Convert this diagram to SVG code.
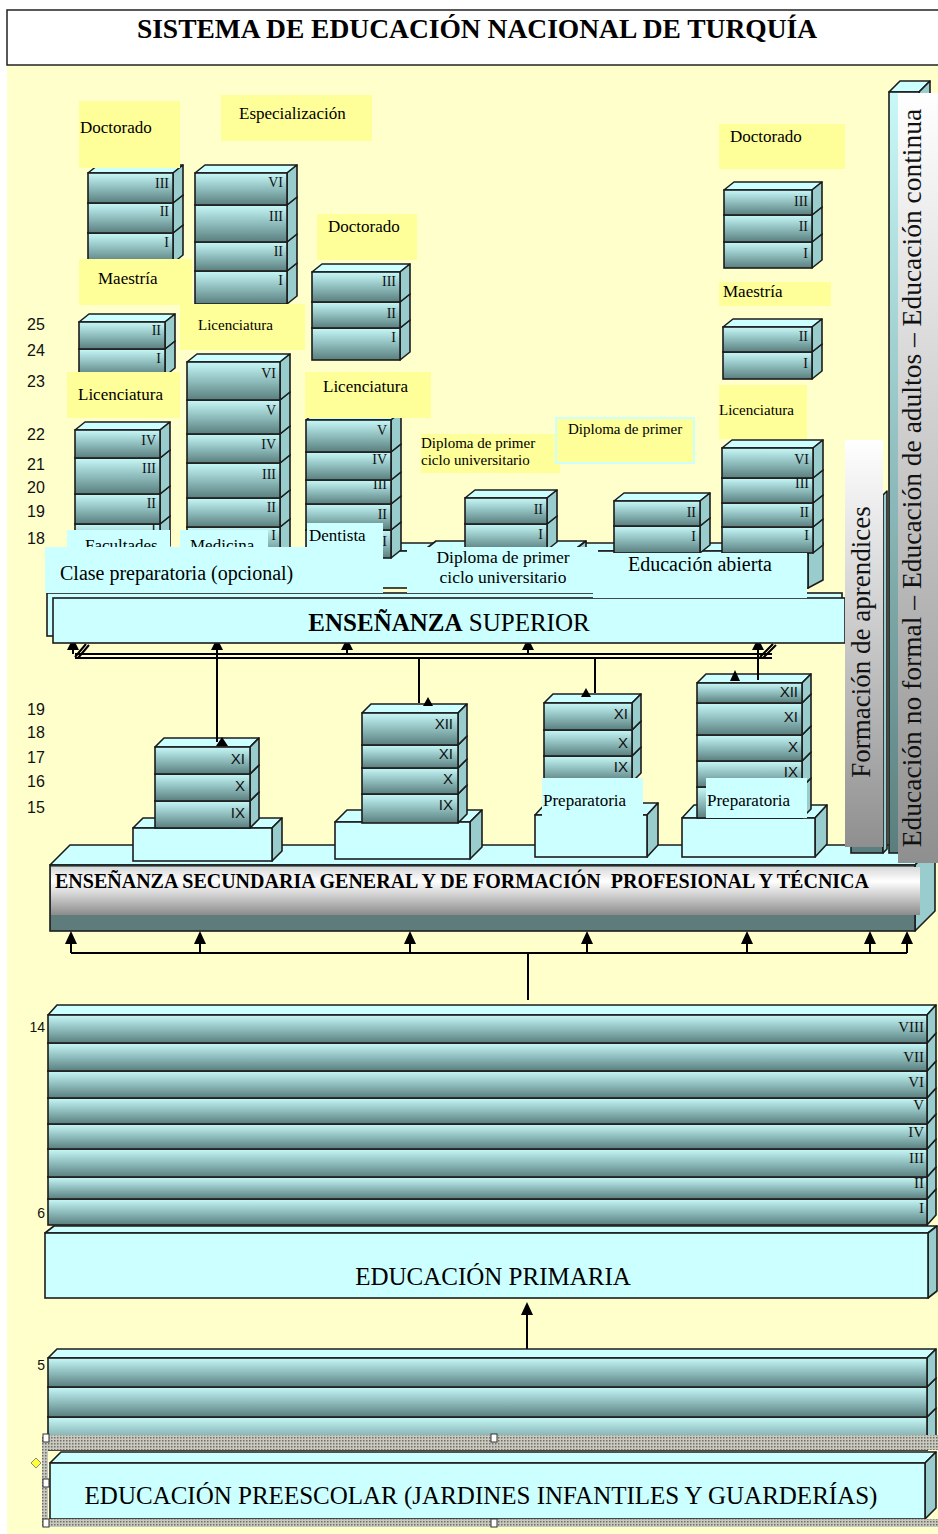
<svg xmlns="http://www.w3.org/2000/svg" width="938" height="1534" viewBox="0 0 938 1534">
<defs>
<linearGradient id="gf" x1="0" y1="0" x2="0" y2="1"><stop offset="0" stop-color="#C8F8F8"/><stop offset="0.5" stop-color="#8FBDBD"/><stop offset="1" stop-color="#5A7E7E"/></linearGradient>
<linearGradient id="gs" x1="0" y1="0" x2="0" y2="1"><stop offset="0" stop-color="#D8D8D8"/><stop offset="0.3" stop-color="#FFFFFF"/><stop offset="1" stop-color="#8C8C8C"/></linearGradient>
<linearGradient id="gg" x1="0" y1="0" x2="0" y2="1"><stop offset="0" stop-color="#FFFFFF"/><stop offset="1" stop-color="#8F8F8F"/></linearGradient>
<pattern id="dots" width="3" height="3" patternUnits="userSpaceOnUse"><rect width="3" height="3" fill="#C9C9BC"/><rect width="1.5" height="1.5" fill="#6E6E6E"/></pattern>
</defs>
<style>
.f{fill:url(#gf);stroke:#1c1c1c;stroke-width:1.6}
.t{fill:#CCFFFF;stroke:#1c1c1c;stroke-width:1.6;stroke-linejoin:round}
.s{fill:#99CCCC;stroke:#1c1c1c;stroke-width:1.6;stroke-linejoin:round}
.c{fill:#CCFFFF;stroke:#1c1c1c;stroke-width:1.6}
.y{fill:#FFFF99}
.q{fill:#CCFFFF}
.rn{font-family:"Liberation Serif","Times New Roman",serif;font-size:14px;text-anchor:end;fill:#111}
.rp{font-size:15px}
.rs{font-family:"Liberation Sans",Arial,sans-serif;font-size:15px;text-anchor:end;fill:#111}
.lb{font-family:"Liberation Serif","Times New Roman",serif;font-size:17px;fill:#000}
.ls{font-size:15px}
.lm{font-size:17.5px;text-anchor:middle}
.ll{font-size:20px}
.ag{font-family:"Liberation Sans",Arial,sans-serif;font-size:16px;fill:#111}
.ap{font-family:"Liberation Sans",Arial,sans-serif;font-size:14px;fill:#111;text-anchor:end}
.big{font-family:"Liberation Serif","Times New Roman",serif;font-size:25px;fill:#000}
.cn{stroke:#000;stroke-width:2;fill:none}
.ah{fill:#000}
.h{fill:#fff;stroke:#333;stroke-width:1}
</style>

<rect x="7" y="65" width="931" height="1469" fill="#FFFFCC"/>
<g id="title">
<rect x="7" y="10" width="940" height="55" fill="#fff" stroke="#222" stroke-width="1.5"/>
<text x="477" y="38" text-anchor="middle" font-family="Liberation Serif, Times New Roman, serif" font-size="27.5" font-weight="bold">SISTEMA DE EDUCACIÓN NACIONAL DE TURQUÍA</text>
</g>

<g id="ages">
<text class="ag" x="27" y="330">25</text><text class="ag" x="27" y="356">24</text><text class="ag" x="27" y="387">23</text><text class="ag" x="27" y="440">22</text><text class="ag" x="27" y="470">21</text><text class="ag" x="27" y="493">20</text><text class="ag" x="27" y="517">19</text><text class="ag" x="27" y="544">18</text>
<text class="ag" x="27" y="715">19</text><text class="ag" x="27" y="738">18</text><text class="ag" x="27" y="763">17</text><text class="ag" x="27" y="787">16</text><text class="ag" x="27" y="813">15</text>
<text class="ap" x="45" y="1032">14</text><text class="ap" x="45" y="1218">6</text><text class="ap" x="45" y="1370">5</text>
</g>

<g id="university-slabs">
<path class="t" d="M380,551l15,-8h428l-15,8z"/><path class="s" d="M808,551l15,-8v37l-15,8z"/><rect class="c" x="380" y="551" width="428" height="37"/>
<path class="t" d="M427,548l9,-7h150l-9,7z"/><path class="s" d="M577,548l9,-7v40l-9,7z"/><rect class="c" x="427" y="548" width="150" height="40"/>
</g>

<g id="doctorado-1">
<path class="t" d="M88,233l10,-8h85l-10,8z"/><path class="s" d="M173,233l10,-8v30l-10,8z"/><rect class="f" x="88" y="233" width="85" height="30"/><text class="rn" x="169" y="247">I</text>
<path class="t" d="M88,203l10,-8h85l-10,8z"/><path class="s" d="M173,203l10,-8v30l-10,8z"/><rect class="f" x="88" y="203" width="85" height="30"/><text class="rn" x="169" y="216">II</text>
<path class="t" d="M88,173l10,-8h85l-10,8z"/><path class="s" d="M173,173l10,-8v30l-10,8z"/><rect class="f" x="88" y="173" width="85" height="30"/><text class="rn" x="169" y="188">III</text>
</g>
<g id="maestria-1">
<path class="t" d="M79,349l10,-8h86l-10,8z"/><path class="s" d="M165,349l10,-8v27l-10,8z"/><rect class="f" x="79" y="349" width="86" height="27"/><text class="rn" x="161" y="363">I</text>
<path class="t" d="M79,322l10,-8h86l-10,8z"/><path class="s" d="M165,322l10,-8v27l-10,8z"/><rect class="f" x="79" y="322" width="86" height="27"/><text class="rn" x="161" y="335">II</text>
</g>
<g id="licenciatura-1">
<path class="t" d="M75,524l10,-8h85l-10,8z"/><path class="s" d="M160,524l10,-8v30l-10,8z"/><rect class="f" x="75" y="524" width="85" height="30"/><text class="rn" x="156" y="532">I</text>
<path class="t" d="M75,494l10,-8h85l-10,8z"/><path class="s" d="M160,494l10,-8v30l-10,8z"/><rect class="f" x="75" y="494" width="85" height="30"/><text class="rn" x="156" y="508">II</text>
<path class="t" d="M75,458l10,-8h85l-10,8z"/><path class="s" d="M160,458l10,-8v36l-10,8z"/><rect class="f" x="75" y="458" width="85" height="36"/><text class="rn" x="156" y="473">III</text>
<path class="t" d="M75,430l10,-8h85l-10,8z"/><path class="s" d="M160,430l10,-8v28l-10,8z"/><rect class="f" x="75" y="430" width="85" height="28"/><text class="rn" x="156" y="445">IV</text>
</g>
<g id="especializacion-2">
<path class="t" d="M195,271l10,-8h92l-10,8z"/><path class="s" d="M287,271l10,-8v33l-10,8z"/><rect class="f" x="195" y="271" width="92" height="33"/><text class="rn" x="283" y="285">I</text>
<path class="t" d="M195,242l10,-8h92l-10,8z"/><path class="s" d="M287,242l10,-8v29l-10,8z"/><rect class="f" x="195" y="242" width="92" height="29"/><text class="rn" x="283" y="256">II</text>
<path class="t" d="M195,205l10,-8h92l-10,8z"/><path class="s" d="M287,205l10,-8v37l-10,8z"/><rect class="f" x="195" y="205" width="92" height="37"/><text class="rn" x="283" y="221">III</text>
<path class="t" d="M195,173l10,-8h92l-10,8z"/><path class="s" d="M287,173l10,-8v32l-10,8z"/><rect class="f" x="195" y="173" width="92" height="32"/><text class="rn" x="283" y="187">VI</text>
</g>
<g id="medicina-2">
<path class="t" d="M187,527l10,-8h93l-10,8z"/><path class="s" d="M280,527l10,-8v30l-10,8z"/><rect class="f" x="187" y="527" width="93" height="30"/><text class="rn" x="276" y="540">I</text>
<path class="t" d="M187,498l10,-8h93l-10,8z"/><path class="s" d="M280,498l10,-8v29l-10,8z"/><rect class="f" x="187" y="498" width="93" height="29"/><text class="rn" x="276" y="512">II</text>
<path class="t" d="M187,463l10,-8h93l-10,8z"/><path class="s" d="M280,463l10,-8v35l-10,8z"/><rect class="f" x="187" y="463" width="93" height="35"/><text class="rn" x="276" y="479">III</text>
<path class="t" d="M187,434l10,-8h93l-10,8z"/><path class="s" d="M280,434l10,-8v29l-10,8z"/><rect class="f" x="187" y="434" width="93" height="29"/><text class="rn" x="276" y="449">IV</text>
<path class="t" d="M187,400l10,-8h93l-10,8z"/><path class="s" d="M280,400l10,-8v34l-10,8z"/><rect class="f" x="187" y="400" width="93" height="34"/><text class="rn" x="276" y="415">V</text>
<path class="t" d="M187,362l10,-8h93l-10,8z"/><path class="s" d="M280,362l10,-8v38l-10,8z"/><rect class="f" x="187" y="362" width="93" height="38"/><text class="rn" x="276" y="378">VI</text>
</g>
<g id="doctorado-3">
<path class="t" d="M312,328l10,-8h88l-10,8z"/><path class="s" d="M400,328l10,-8v32l-10,8z"/><rect class="f" x="312" y="328" width="88" height="32"/><text class="rn" x="396" y="342">I</text>
<path class="t" d="M312,302l10,-8h88l-10,8z"/><path class="s" d="M400,302l10,-8v26l-10,8z"/><rect class="f" x="312" y="302" width="88" height="26"/><text class="rn" x="396" y="318">II</text>
<path class="t" d="M312,272l10,-8h88l-10,8z"/><path class="s" d="M400,272l10,-8v30l-10,8z"/><rect class="f" x="312" y="272" width="88" height="30"/><text class="rn" x="396" y="286">III</text>
</g>
<g id="dentista-3">
<path class="t" d="M306,530l10,-8h85l-10,8z"/><path class="s" d="M391,530l10,-8v28l-10,8z"/><rect class="f" x="306" y="530" width="85" height="28"/><text class="rn" x="387" y="546">I</text>
<path class="t" d="M306,504l10,-8h85l-10,8z"/><path class="s" d="M391,504l10,-8v26l-10,8z"/><rect class="f" x="306" y="504" width="85" height="26"/><text class="rn" x="387" y="519">II</text>
<path class="t" d="M306,480l10,-8h85l-10,8z"/><path class="s" d="M391,480l10,-8v24l-10,8z"/><rect class="f" x="306" y="480" width="85" height="24"/><text class="rn" x="387" y="489">III</text>
<path class="t" d="M306,452l10,-8h85l-10,8z"/><path class="s" d="M391,452l10,-8v28l-10,8z"/><rect class="f" x="306" y="452" width="85" height="28"/><text class="rn" x="387" y="464">IV</text>
<path class="t" d="M306,420l10,-8h85l-10,8z"/><path class="s" d="M391,420l10,-8v32l-10,8z"/><rect class="f" x="306" y="420" width="85" height="32"/><text class="rn" x="387" y="435">V</text>
</g>
<g id="diploma-4">
<path class="t" d="M465,524l10,-8h82l-10,8z"/><path class="s" d="M547,524l10,-8v26l-10,8z"/><rect class="f" x="465" y="524" width="82" height="26"/><text class="rn" x="543" y="539">I</text>
<path class="t" d="M465,498l10,-8h82l-10,8z"/><path class="s" d="M547,498l10,-8v26l-10,8z"/><rect class="f" x="465" y="498" width="82" height="26"/><text class="rn" x="543" y="514">II</text>
</g>
<g id="abierta-5">
<path class="t" d="M614,526l10,-8h86l-10,8z"/><path class="s" d="M700,526l10,-8v27l-10,8z"/><rect class="f" x="614" y="526" width="86" height="27"/><text class="rn" x="696" y="541">I</text>
<path class="t" d="M614,501l10,-8h86l-10,8z"/><path class="s" d="M700,501l10,-8v25l-10,8z"/><rect class="f" x="614" y="501" width="86" height="25"/><text class="rn" x="696" y="517">II</text>
</g>
<g id="doctorado-6">
<path class="t" d="M724,242l10,-8h88l-10,8z"/><path class="s" d="M812,242l10,-8v26l-10,8z"/><rect class="f" x="724" y="242" width="88" height="26"/><text class="rn" x="808" y="258">I</text>
<path class="t" d="M724,215l10,-8h88l-10,8z"/><path class="s" d="M812,215l10,-8v27l-10,8z"/><rect class="f" x="724" y="215" width="88" height="27"/><text class="rn" x="808" y="231">II</text>
<path class="t" d="M724,190l10,-8h88l-10,8z"/><path class="s" d="M812,190l10,-8v25l-10,8z"/><rect class="f" x="724" y="190" width="88" height="25"/><text class="rn" x="808" y="206">III</text>
</g>
<g id="maestria-6">
<path class="t" d="M723,352l10,-8h89l-10,8z"/><path class="s" d="M812,352l10,-8v27l-10,8z"/><rect class="f" x="723" y="352" width="89" height="27"/><text class="rn" x="808" y="368">I</text>
<path class="t" d="M723,327l10,-8h89l-10,8z"/><path class="s" d="M812,327l10,-8v25l-10,8z"/><rect class="f" x="723" y="327" width="89" height="25"/><text class="rn" x="808" y="341">II</text>
</g>
<g id="licenciatura-6">
<path class="t" d="M722,527l10,-8h91l-10,8z"/><path class="s" d="M813,527l10,-8v26l-10,8z"/><rect class="f" x="722" y="527" width="91" height="26"/><text class="rn" x="809" y="540">I</text>
<path class="t" d="M722,503l10,-8h91l-10,8z"/><path class="s" d="M813,503l10,-8v24l-10,8z"/><rect class="f" x="722" y="503" width="91" height="24"/><text class="rn" x="809" y="517">II</text>
<path class="t" d="M722,478l10,-8h91l-10,8z"/><path class="s" d="M813,478l10,-8v25l-10,8z"/><rect class="f" x="722" y="478" width="91" height="25"/><text class="rn" x="809" y="488">III</text>
<path class="t" d="M722,448l10,-8h91l-10,8z"/><path class="s" d="M813,448l10,-8v30l-10,8z"/><rect class="f" x="722" y="448" width="91" height="30"/><text class="rn" x="809" y="464">VI</text>
</g>

<g id="yellow-labels">
<rect class="y" x="79" y="101" width="101" height="67"/><text class="lb" x="80" y="133">Doctorado</text>
<rect class="y" x="221" y="95" width="151" height="46"/><text class="lb" x="239" y="119">Especialización</text>
<rect class="y" x="79" y="259" width="113" height="46"/><text class="lb" x="98" y="284">Maestría</text>
<rect class="y" x="180" y="304" width="125" height="46"/><text class="lb ls" x="198" y="330">Licenciatura</text>
<rect class="y" x="317" y="214" width="100" height="46"/><text class="lb" x="328" y="232">Doctorado</text>
<rect class="y" x="67" y="372" width="113" height="46"/><text class="lb" x="78" y="400">Licenciatura</text>
<rect class="y" x="305" y="372" width="126" height="46"/><text class="lb" x="323" y="392">Licenciatura</text>
<rect class="y" x="421" y="434" width="139" height="39"/><text class="lb ls" x="421" y="448">Diploma de primer</text><text class="lb ls" x="421" y="465">ciclo universitario</text>
<rect class="y" x="556" y="418" width="138" height="45" stroke="#CCFFFF" stroke-width="2"/><text class="lb ls" x="568" y="434">Diploma de primer</text>
<rect class="y" x="719" y="124" width="126" height="45"/><text class="lb" x="730" y="142">Doctorado</text>
<rect class="y" x="719" y="282" width="112" height="24"/><text class="lb" x="723" y="297">Maestría</text>
<rect class="y" x="719" y="385" width="88" height="54"/><text class="lb ls" x="719" y="415">Licenciatura</text>
</g>

<g id="secundaria">
<path class="t" d="M50,865l20,-20h865l-20,20z"/><path class="s" d="M915,865l20,-20v66l-20,20z"/><rect x="50" y="865" width="865" height="66" fill="#5E7C7C" stroke="#1c1c1c" stroke-width="1.6"/>
<rect x="51" y="867" width="869" height="48" fill="url(#gs)"/>
<text x="55" y="888" font-family="Liberation Serif, Times New Roman, serif" font-size="20" font-weight="bold">ENSEÑANZA SECUNDARIA GENERAL Y DE FORMACIÓN&#160; PROFESIONAL Y TÉCNICA</text>
</g>
<g id="sec-slabs">
<path class="t" d="M133,828l10,-10h139l-10,10z"/><path class="s" d="M272,828l10,-10v33l-10,10z"/><rect class="c" x="133" y="828" width="139" height="33"/>
<path class="t" d="M335,822l12,-12h135l-12,12z"/><path class="s" d="M470,822l12,-12v37l-12,12z"/><rect class="c" x="335" y="822" width="135" height="37"/>
<path class="t" d="M535,815l11,-12h112l-11,12z"/><path class="s" d="M647,815l11,-12v42l-11,12z"/><rect class="c" x="535" y="815" width="112" height="42"/>
<path class="t" d="M682,818l12,-13h133l-12,13z"/><path class="s" d="M815,818l12,-13v39l-12,13z"/><rect class="c" x="682" y="818" width="133" height="39"/>
</g>
<g id="sec-a">
<path class="t" d="M155,801l9,-9h95l-9,9z"/><path class="s" d="M250,801l9,-9v27l-9,9z"/><rect class="f" x="155" y="801" width="95" height="27"/><text class="rs" x="245" y="818">IX</text>
<path class="t" d="M155,774l9,-9h95l-9,9z"/><path class="s" d="M250,774l9,-9v27l-9,9z"/><rect class="f" x="155" y="774" width="95" height="27"/><text class="rs" x="245" y="791">X</text>
<path class="t" d="M155,747l9,-9h95l-9,9z"/><path class="s" d="M250,747l9,-9v27l-9,9z"/><rect class="f" x="155" y="747" width="95" height="27"/><text class="rs" x="245" y="764">XI</text>
</g>
<g id="sec-b">
<path class="t" d="M362,794l9,-9h96l-9,9z"/><path class="s" d="M458,794l9,-9v29l-9,9z"/><rect class="f" x="362" y="794" width="96" height="29"/><text class="rs" x="453" y="810">IX</text>
<path class="t" d="M362,768l9,-9h96l-9,9z"/><path class="s" d="M458,768l9,-9v26l-9,9z"/><rect class="f" x="362" y="768" width="96" height="26"/><text class="rs" x="453" y="784">X</text>
<path class="t" d="M362,745l9,-9h96l-9,9z"/><path class="s" d="M458,745l9,-9v23l-9,9z"/><rect class="f" x="362" y="745" width="96" height="23"/><text class="rs" x="453" y="759">XI</text>
<path class="t" d="M362,713l9,-9h96l-9,9z"/><path class="s" d="M458,713l9,-9v32l-9,9z"/><rect class="f" x="362" y="713" width="96" height="32"/><text class="rs" x="453" y="729">XII</text>
</g>
<g id="sec-c">
<path class="t" d="M544,756l9,-9h88l-9,9z"/><path class="s" d="M632,756l9,-9v26l-9,9z"/><rect class="f" x="544" y="756" width="88" height="26"/><text class="rs" x="628" y="772">IX</text>
<path class="t" d="M544,730l9,-9h88l-9,9z"/><path class="s" d="M632,730l9,-9v26l-9,9z"/><rect class="f" x="544" y="730" width="88" height="26"/><text class="rs" x="628" y="748">X</text>
<path class="t" d="M544,703l9,-9h88l-9,9z"/><path class="s" d="M632,703l9,-9v27l-9,9z"/><rect class="f" x="544" y="703" width="88" height="27"/><text class="rs" x="628" y="719">XI</text>
<rect class="q" x="542" y="778" width="101" height="40"/><text class="lb" x="543" y="806">Preparatoria</text>
</g>
<g id="sec-d">
<path class="t" d="M697,787l9,-9h105l-9,9z"/><path class="s" d="M802,787l9,-9v31l-9,9z"/><rect class="f" x="697" y="787" width="105" height="31"/>
<path class="t" d="M697,761l9,-9h105l-9,9z"/><path class="s" d="M802,761l9,-9v26l-9,9z"/><rect class="f" x="697" y="761" width="105" height="26"/><text class="rs" x="798" y="777">IX</text>
<path class="t" d="M697,735l9,-9h105l-9,9z"/><path class="s" d="M802,735l9,-9v26l-9,9z"/><rect class="f" x="697" y="735" width="105" height="26"/><text class="rs" x="798" y="752">X</text>
<path class="t" d="M697,703l9,-9h105l-9,9z"/><path class="s" d="M802,703l9,-9v32l-9,9z"/><rect class="f" x="697" y="703" width="105" height="32"/><text class="rs" x="798" y="722">XI</text>
<path class="t" d="M697,683l9,-9h105l-9,9z"/><path class="s" d="M802,683l9,-9v20l-9,9z"/><rect class="f" x="697" y="683" width="105" height="20"/><text class="rs" x="798" y="697">XII</text>
<rect class="q" x="706" y="778" width="101" height="40"/><text class="lb" x="707" y="806">Preparatoria</text>
</g>

<g id="connectors">
<path class="cn" stroke-width="1.5" d="M75,654H772M75,658H772"/>
<path class="cn" d="M73,654V648M217,742V648M347,654V648M528,654V648M758,680V648M419,658V703M595,658V693"/>
<path class="ah" d="M73,638l6,12h-12zM217,638l6,12h-12zM347,638l6,12h-12zM528,638l6,12h-12zM758,638l6,12h-12z"/>
<path class="ah" d="M222,737l6,9h-12zM428,697l5,9h-10zM586,688l5,9h-10zM735,670l5,11h-10z"/>
<path class="cn" stroke-width="1.2" d="M86,644L75,657M89,645L78,658M773,644L760,657M776,645L763,658"/>
<path class="cn" d="M71,953H907M71,953V943M200,953V943M410,953V943M587,953V943M747,953V943M870,953V943M907,953V943M528,953V1000"/>
<path class="ah" d="M71,931l6,13h-12zM200,931l6,13h-12zM410,931l6,13h-12zM587,931l6,13h-12zM747,931l6,13h-12zM870,931l6,13h-12zM907,931l6,13h-12z"/>
<path class="cn" d="M527,1351V1312"/><path class="ah" d="M527,1302l6,13h-12z"/>
</g>

<g id="superior">
<rect class="c" x="47" y="593" width="795" height="43"/>
<rect class="c" x="53" y="598" width="792" height="45"/>
<text class="big" x="449" y="631" text-anchor="middle"><tspan font-weight="bold">ENSEÑANZA</tspan> SUPERIOR</text>
</g>

<g id="cyan-labels">
<rect class="q" x="67" y="530" width="103" height="20"/><text class="lb" x="85" y="551">Facultades</text>
<rect class="q" x="180" y="530" width="88" height="18"/><text class="lb" x="190" y="551">Medicina</text>
<rect class="q" x="307" y="523" width="76" height="24"/><text class="lb" x="309" y="541">Dentista</text>
<rect class="q" x="45" y="547" width="338" height="46"/><text class="lb ll" x="60" y="580">Clase preparatoria (opcional)</text>
<rect class="q" x="407" y="547" width="191" height="46"/><text class="lb lm" x="503" y="563">Diploma de primer</text><text class="lb lm" x="503" y="583">ciclo universitario</text>
<rect class="q" x="593" y="553" width="214" height="45"/><text class="lb ll" x="628" y="571">Educación abierta</text>
</g>

<g id="aprendices">
<rect class="f" x="851" y="495" width="32" height="358"/><path class="s" d="M883,495l4,-4v358l-4,4z"/>
<rect x="845" y="440" width="38" height="407" fill="url(#gg)"/>
<text transform="translate(870,642) rotate(-90)" text-anchor="middle" font-family="Liberation Serif, Times New Roman, serif" font-size="27" fill="#111">Formación de aprendices</text>
</g>
<g id="no-formal">
<path class="t" d="M889,92l11,-11h30l-11,11z"/><path class="s" d="M919,92l11,-11v761l-11,11z"/><rect class="f" x="889" y="92" width="30" height="761"/>
<rect x="898" y="93" width="40" height="770" fill="url(#gg)"/>
<text transform="translate(921,478) rotate(-90)" text-anchor="middle" font-family="Liberation Serif, Times New Roman, serif" font-size="27.5" fill="#111">Educación no formal – Educación de adultos – Educación continua</text>
</g>

<g id="primaria-grados">
<path class="t" d="M48,1199l9,-10h879l-9,10z"/><path class="s" d="M927,1199l9,-10v26l-9,10z"/><rect class="f" x="48" y="1199" width="879" height="26"/><text class="rn rp" x="924" y="1213">I</text>
<path class="t" d="M48,1177l9,-10h879l-9,10z"/><path class="s" d="M927,1177l9,-10v22l-9,10z"/><rect class="f" x="48" y="1177" width="879" height="22"/><text class="rn rp" x="924" y="1188">II</text>
<path class="t" d="M48,1149l9,-10h879l-9,10z"/><path class="s" d="M927,1149l9,-10v28l-9,10z"/><rect class="f" x="48" y="1149" width="879" height="28"/><text class="rn rp" x="924" y="1163">III</text>
<path class="t" d="M48,1124l9,-10h879l-9,10z"/><path class="s" d="M927,1124l9,-10v25l-9,10z"/><rect class="f" x="48" y="1124" width="879" height="25"/><text class="rn rp" x="924" y="1137">IV</text>
<path class="t" d="M48,1098l9,-10h879l-9,10z"/><path class="s" d="M927,1098l9,-10v26l-9,10z"/><rect class="f" x="48" y="1098" width="879" height="26"/><text class="rn rp" x="924" y="1110">V</text>
<path class="t" d="M48,1071l9,-10h879l-9,10z"/><path class="s" d="M927,1071l9,-10v27l-9,10z"/><rect class="f" x="48" y="1071" width="879" height="27"/><text class="rn rp" x="924" y="1087">VI</text>
<path class="t" d="M48,1043l9,-10h879l-9,10z"/><path class="s" d="M927,1043l9,-10v28l-9,10z"/><rect class="f" x="48" y="1043" width="879" height="28"/><text class="rn rp" x="924" y="1062">VII</text>
<path class="t" d="M48,1015l9,-10h879l-9,10z"/><path class="s" d="M927,1015l9,-10v28l-9,10z"/><rect class="f" x="48" y="1015" width="879" height="28"/><text class="rn rp" x="924" y="1032">VIII</text>
</g>
<g id="primaria">
<path class="t" d="M45,1233l9,-7h883l-9,7z"/><path class="s" d="M928,1233l9,-7v65l-9,7z"/><rect class="c" x="45" y="1233" width="883" height="65"/>
<text class="big" x="493" y="1285" text-anchor="middle">EDUCACIÓN PRIMARIA</text>
</g>

<g id="preescolar-grados">
<path class="t" d="M48,1417l9,-9h879l-9,9z"/><path class="s" d="M927,1417l9,-9v33l-9,9z"/><rect class="f" x="48" y="1417" width="879" height="33"/>
<path class="t" d="M48,1387l9,-9h879l-9,9z"/><path class="s" d="M927,1387l9,-9v30l-9,9z"/><rect class="f" x="48" y="1387" width="879" height="30"/>
<path class="t" d="M48,1358l9,-9h879l-9,9z"/><path class="s" d="M927,1358l9,-9v29l-9,9z"/><rect class="f" x="48" y="1358" width="879" height="29"/>
</g>
<g id="preescolar">
<rect x="46" y="1435" width="892" height="15" fill="url(#dots)"/>
<path class="t" d="M50,1463l11,-11h875l-11,11z"/><path class="s" d="M925,1463l11,-11v56l-11,11z"/><rect class="c" x="50" y="1463" width="875" height="56"/>
<text class="big" x="481" y="1504" text-anchor="middle">EDUCACIÓN PREESCOLAR (JARDINES INFANTILES Y GUARDERÍAS)</text>
<rect x="42" y="1437" width="6" height="90" fill="url(#dots)"/>
<rect x="42" y="1519" width="896" height="8" fill="url(#dots)"/>
<rect class="h" x="43" y="1434" width="6" height="8"/><rect class="h" x="491" y="1434" width="6" height="8"/><rect class="h" x="43" y="1479" width="6" height="8"/><rect class="h" x="43" y="1519" width="6" height="8"/><rect class="h" x="491" y="1519" width="6" height="8"/>
<path d="M36,1458l5,5l-5,5l-5,-5z" fill="#FFFF33" stroke="#888" stroke-width="1"/>
</g>
</svg>
